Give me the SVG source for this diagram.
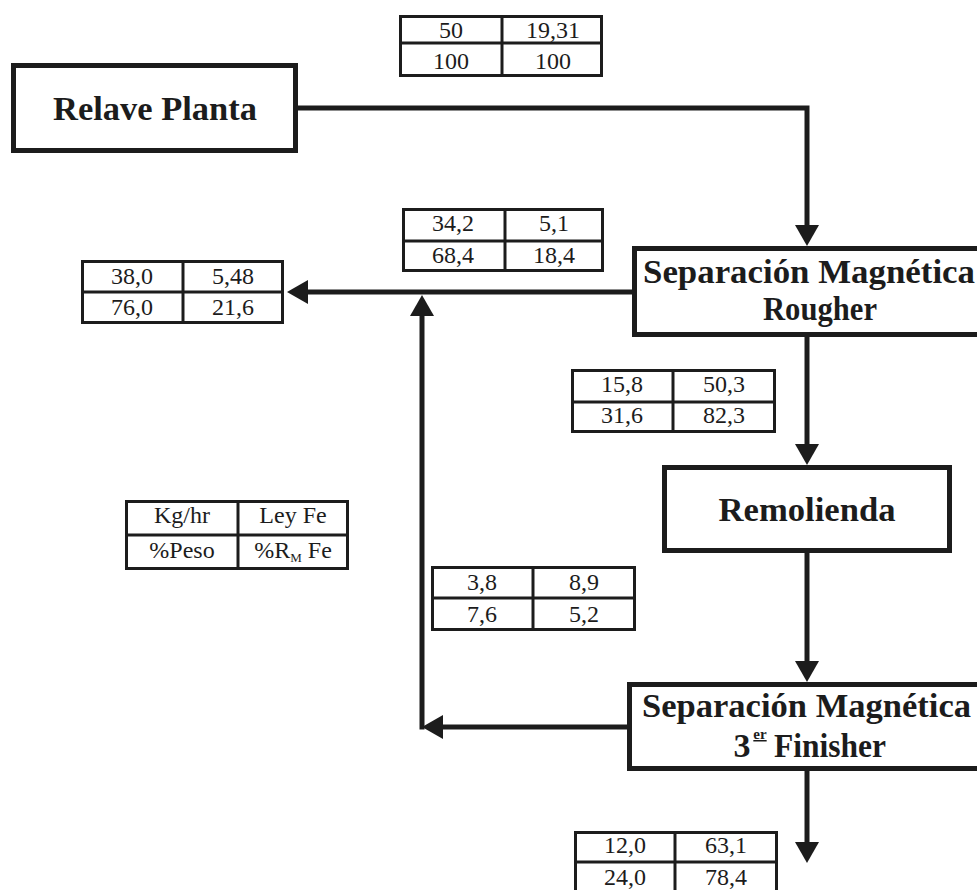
<svg xmlns="http://www.w3.org/2000/svg" width="977" height="890" viewBox="0 0 977 890">
<style>
.box{fill:#fff;stroke:#1c1c1c;stroke-width:5}
.tb{fill:#fff;stroke:#1c1c1c;stroke-width:3}
.tl{stroke:#1c1c1c;stroke-width:3}
.ln{fill:none;stroke:#1c1c1c;stroke-width:5}
.t{font-family:'Liberation Serif','Times New Roman',serif;font-size:24px;fill:#1c1c1c;text-anchor:middle}
.h{font-family:'Liberation Serif','Times New Roman',serif;font-size:34px;font-weight:bold;fill:#1c1c1c;text-anchor:middle}
.s{font-family:'Liberation Serif','Times New Roman',serif;font-size:15px;font-weight:bold;fill:#1c1c1c;text-anchor:middle;text-decoration:underline}
</style>
<defs>
<marker id="ah" viewBox="0 0 21 24" refX="0" refY="12" markerWidth="21" markerHeight="24" markerUnits="userSpaceOnUse" orient="auto">
<path d="M0,0 L21,12 L0,24 Z" fill="#1c1c1c"/>
</marker>
</defs>
<rect width="977" height="890" fill="#fff"/>
<g id="connectors">
<path class="ln" d="M298,108 H807 V225" marker-end="url(#ah)"/>
<path class="ln" d="M632,292 H308" marker-end="url(#ah)"/>
<path class="ln" d="M422,729.5 V316" marker-end="url(#ah)"/>
<path class="ln" d="M627,727 H443" marker-end="url(#ah)"/>
<path class="ln" d="M807,337 V444" marker-end="url(#ah)"/>
<path class="ln" d="M807,553 V661" marker-end="url(#ah)"/>
<path class="ln" d="M807,771 V842" marker-end="url(#ah)"/>
</g>
<g id="relave">
<rect class="box" x="13.5" y="65.5" width="282" height="85"/>
<text class="h" x="155" y="120" textLength="204" lengthAdjust="spacingAndGlyphs">Relave Planta</text>
</g>
<g id="rougher">
<rect class="box" x="634.5" y="248.5" width="360" height="86"/>
<text class="h" x="809" y="283" textLength="332" lengthAdjust="spacingAndGlyphs">Separación Magnética</text>
<text class="h" x="820" y="320" textLength="114" lengthAdjust="spacingAndGlyphs">Rougher</text>
</g>
<g id="remolienda">
<rect class="box" x="664.5" y="467.5" width="285" height="83"/>
<text class="h" x="807" y="521" textLength="177" lengthAdjust="spacingAndGlyphs">Remolienda</text>
</g>
<g id="finisher">
<rect class="box" x="629.5" y="684.5" width="360" height="84"/>
<text class="h" x="806.5" y="717" textLength="329" lengthAdjust="spacingAndGlyphs">Separación Magnética</text>
<text class="h" x="742" y="757">3</text>
<text class="s" x="760" y="739">er</text>
<text class="h" x="830" y="757" textLength="112" lengthAdjust="spacingAndGlyphs">Finisher</text>
</g>
<g id="t-feed">
<rect class="tb" x="400.5" y="16.5" width="201" height="59"/>
<line class="tl" x1="400" y1="43" x2="603" y2="43"/>
<line class="tl" x1="502" y1="15" x2="502" y2="77"/>
<text class="t" x="451" y="38">50</text><text class="t" x="553" y="38">19,31</text>
<text class="t" x="451" y="69">100</text><text class="t" x="553" y="69">100</text>
</g>
<g id="t-tail">
<rect class="tb" x="82.5" y="261.5" width="200" height="61"/>
<line class="tl" x1="82" y1="292" x2="284" y2="292"/>
<line class="tl" x1="183" y1="260" x2="183" y2="324"/>
<text class="t" x="132" y="284">38,0</text><text class="t" x="233" y="284">5,48</text>
<text class="t" x="132" y="315">76,0</text><text class="t" x="233" y="315">21,6</text>
</g>
<g id="t-rtail">
<rect class="tb" x="403.5" y="209.5" width="199" height="61"/>
<line class="tl" x1="403" y1="241" x2="604" y2="241"/>
<line class="tl" x1="505" y1="208" x2="505" y2="272"/>
<text class="t" x="453" y="231">34,2</text><text class="t" x="554" y="231">5,1</text>
<text class="t" x="453" y="263">68,4</text><text class="t" x="554" y="263">18,4</text>
</g>
<g id="t-rconc">
<rect class="tb" x="572.5" y="370.5" width="202" height="61"/>
<line class="tl" x1="572" y1="402" x2="776" y2="402"/>
<line class="tl" x1="673" y1="369" x2="673" y2="433"/>
<text class="t" x="622" y="392">15,8</text><text class="t" x="724" y="392">50,3</text>
<text class="t" x="622" y="423">31,6</text><text class="t" x="724" y="423">82,3</text>
</g>
<g id="t-ftail">
<rect class="tb" x="432.5" y="567.5" width="202" height="62"/>
<line class="tl" x1="432" y1="598" x2="636" y2="598"/>
<line class="tl" x1="533" y1="566" x2="533" y2="631"/>
<text class="t" x="482" y="590">3,8</text><text class="t" x="584" y="590">8,9</text>
<text class="t" x="482" y="622">7,6</text><text class="t" x="584" y="622">5,2</text>
</g>
<g id="t-legend">
<rect class="tb" x="126.5" y="501.5" width="221" height="67"/>
<line class="tl" x1="126" y1="535" x2="349" y2="535"/>
<line class="tl" x1="238" y1="500" x2="238" y2="570"/>
<text class="t" x="182" y="523">Kg/hr</text><text class="t" x="293" y="523">Ley Fe</text>
<text class="t" x="182" y="558">%Peso</text>
<text class="t" x="293" y="558">%R<tspan font-size="13" dy="4">M</tspan><tspan dy="-4"> Fe</tspan></text>
</g>
<g id="t-fconc">
<rect class="tb" x="575.5" y="832.5" width="201" height="62"/>
<line class="tl" x1="575" y1="862" x2="778" y2="862"/>
<line class="tl" x1="675" y1="831" x2="675" y2="895"/>
<text class="t" x="625" y="853">12,0</text><text class="t" x="726" y="853">63,1</text>
<text class="t" x="625" y="885">24,0</text><text class="t" x="726" y="885">78,4</text>
</g>
</svg>
